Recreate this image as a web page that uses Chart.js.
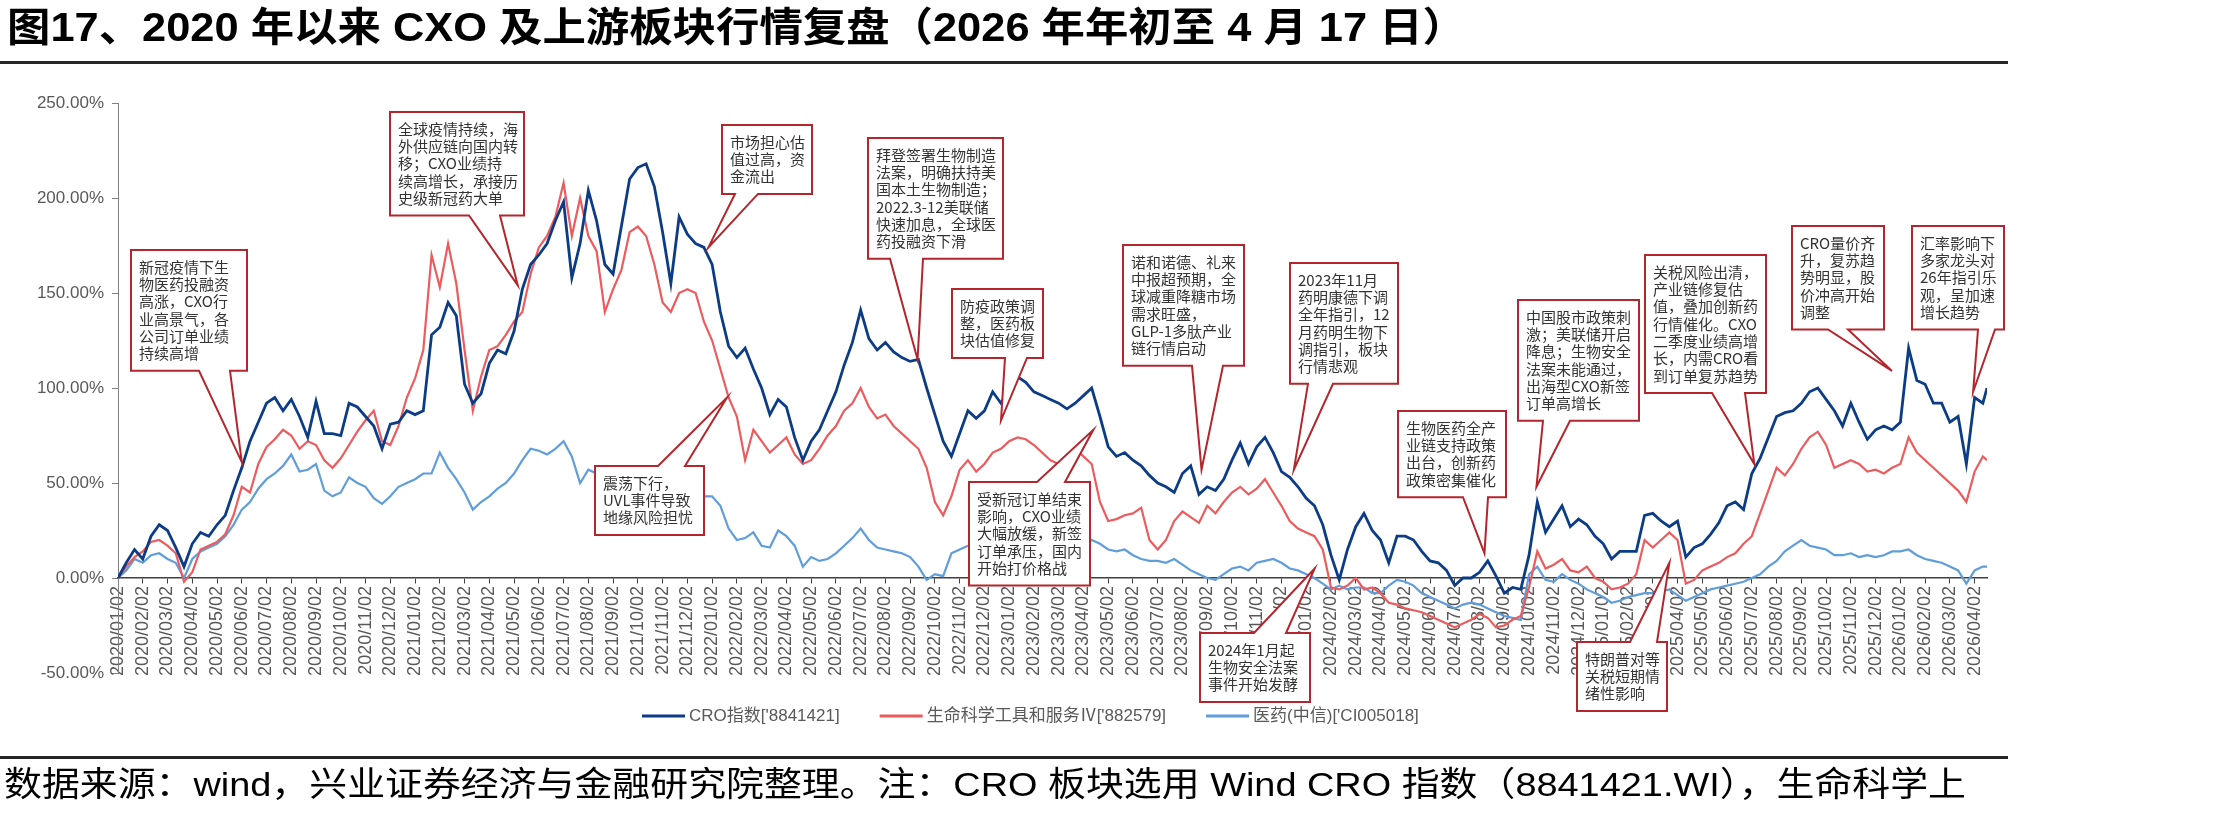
<!DOCTYPE html>
<html lang="zh-CN">
<head>
<meta charset="UTF-8">
<title>2020 年以来 CXO 及上游板块行情复盘</title>
<style>
  html, body { margin: 0; padding: 0; background: #fff; }
  body {
    width: 2221px; height: 819px; position: relative; overflow: hidden;
    font-family: "Liberation Sans", Arial, "Noto Sans CJK SC", sans-serif;
  }
  #chart { position: absolute; left: 0; top: 0; }
  #title {
    position: absolute; left: 7px; top: 7px; font-size: 40px; line-height: 40px;
    font-weight: bold; color: #000; white-space: nowrap; transform-origin: 0 0;
  }
  .rule { position: absolute; left: 0; width: 2008px; height: 3px; background: #262626; }
  #note {
    position: absolute; left: 4px; top: 767px; font-size: 34px; line-height: 34px;
    color: #000; white-space: nowrap; transform-origin: 0 0;
  }
</style>
<script src="https://cdn.jsdelivr.net/npm/chart.js"></script>
</head>
<body>
<canvas id="chart" width="2221" height="819"></canvas>
<div id="title">图17、2020 年以来 CXO 及上游板块行情复盘（2026 年年初至 4 月 17 日）</div>
<div class="rule" style="top:61px"></div>
<div class="rule" style="top:756px"></div>
<div id="note">数据来源：wind，兴业证券经济与金融研究院整理。注：CRO 板块选用 Wind CRO 指数（8841421.WI），生命科学上</div>

<script>
// x axis tick labels: one per month, 2020/01/02 .. 2026/04/02
const tickLabels = [];
for (let yr = 2020; yr <= 2026; yr++) {
  for (let mo = 1; mo <= 12; mo++) {
    if (yr === 2026 && mo > 4) break;
    tickLabels.push(yr + '/' + String(mo).padStart(2, '0') + '/02');
  }
}
// sample dates: the 2nd, 12th and 22nd of each month (last point 2026/04/17)
const sampleDays = ['02', '12', '22'];

// cumulative return since 2020/01/02, %
const croIndex = [
  // 2020
  0, 8, 15,  10, 22, 28,  25, 16, 6,  18, 24, 22,  28, 33, 46,  58, 72, 82,
  92, 95, 88,  94, 85, 74,  93, 76, 76,  75, 92, 90,  85, 80, 68,  81, 82, 88,
  // 2021
  86, 88, 128,  132, 145, 138,  102, 92, 97,  113, 120, 118,  130, 152, 165,  170, 176, 188,
  198, 158, 176,  204, 188, 165,  160, 185, 210,  216, 218, 206,  182, 155, 190,  181, 176, 174,
  // 2022
  165, 140, 122,  116, 121, 110,  100, 86, 94,  90, 74, 62,  72, 78, 88,  98, 112, 124,
  141, 126, 120,  124, 119, 116,  114, 115, 100,  86, 72, 64,  76, 88, 84,  88, 98, 92,
  // 2023
  100, 106, 103,  98, 96, 94,  92, 89, 92,  96, 100, 85,  69, 64, 66,  62, 59, 54,
  50, 48, 45,  55, 59, 44,  48, 46, 52,  62, 71, 60,  69, 74, 66,  56, 53, 48,
  // 2024
  42, 38, 28,  12, -1, 15,  27, 34, 25,  20, 8, 22,  22, 20, 14,  9, 8, 4,
  -4, 0, 0,  3, 9, 1,  -8, -5, -6,  12, 40, 24,  31, 38, 27,  31, 28, 22,
  // 2025
  18, 10, 14,  14, 14, 33,  34, 30, 27,  30, 11, 16,  18, 23, 29,  38, 40, 36,
  55, 63, 74,  85, 87, 88,  92, 98, 100,  94, 88, 80,  92, 82, 73,  78, 80, 78,
  // 2026
  82, 121, 104,  102, 92, 92,  82, 85, 60,  95, 92, 100
];
const lifeSciTools = [
  // 2020
  0, 6, 11,  14, 19, 20,  17, 13, -2,  3, 15, 17,  19, 23, 33,  48, 45, 60,
  69, 73, 78,  75, 68, 72,  70, 62, 58,  63, 70, 77,  83, 88, 72,  70, 80, 95,
  // 2021
  105, 120, 170,  153, 176, 155,  120, 88, 106,  120, 122, 128,  135, 140, 160,  174, 180, 190,
  208, 180, 200,  180, 172, 140,  152, 162, 182,  185, 180, 165,  145, 140, 150,  152, 150, 135,
  // 2022
  125, 110, 95,  85, 62, 78,  72, 66, 70,  74, 65, 60,  62, 68, 75,  80, 88, 92,
  100, 90, 84,  86, 80, 76,  72, 68, 58,  40, 33, 43,  57, 62, 56,  60, 66, 68,
  // 2023
  72, 74, 73,  70, 66, 62,  60, 62, 68,  64, 60, 40,  30, 31, 33,  34, 37, 20,
  15, 20, 30,  35, 32, 29,  38, 34, 40,  45, 48, 44,  47, 52, 45,  38, 30, 26,
  // 2024
  24, 22, 15,  -5, -6, -4,  0, -6, -5,  -8, -13, -14,  -16, -17, -18,  -20, -22, -24,
  -26, -24, -22,  -19, -21, -26,  -25, -22, -20,  -5, 14, 5,  7, 10, 4,  3, 6, 0,
  // 2025
  -2, -6, -5,  -3, 2, 20,  16, 20, 24,  20, -3, -1,  4, 6, 8,  11, 13, 18,
  22, 34, 46,  58, 54, 60,  68, 74, 77,  70, 58, 60,  62, 60, 56,  57, 55, 58,
  // 2026
  60, 74, 66,  62, 58, 54,  50, 46, 40,  56, 64, 62
];
const pharmaCitic = [
  // 2020
  0, 4, 10,  8, 12, 13,  10, 8, 0,  10, 14, 16,  18, 22, 28,  36, 40, 47,
  52, 55, 59,  65, 56, 57,  60, 46, 43,  45, 53, 50,  48, 42, 39,  43, 48, 50,
  // 2021
  52, 55, 55,  66, 58, 52,  45, 36, 40,  43, 47, 50,  55, 62, 68,  67, 65, 68,
  72, 64, 50,  57, 55, 50,  52, 55, 50,  48, 50, 46,  47, 45, 44,  42, 41, 43,
  // 2022
  43, 38, 26,  20, 21, 24,  17, 16, 25,  22, 17, 6,  11, 9, 10,  13, 17, 21,
  26, 20, 16,  15, 14, 13,  11, 6, -1,  2, 1, 13,  15, 17, 18,  19, 17, 20,
  // 2023
  18, 20, 22,  18, 20, 16,  15, 13, 15,  17, 20, 18,  15, 14, 15,  12, 10, 9,
  9, 8, 10,  7, 4, 2,  0, -1, 2,  5, 6, 4,  8, 9, 10,  8, 5, 4,
  // 2024
  2, 0, -3,  -6, -4, -6,  -5, -5, -8,  -8, -4, -1,  -2, -4, -8,  -10, -12, -14,
  -16, -14, -13,  -14, -16, -18,  -20, -21, -22,  2, 6, -1,  -2, 2, -1,  -3, -6, -8,
  // 2025
  -10, -13, -12,  -10, -9, -8,  -8, -7, -6,  -9, -12, -10,  -8, -6, -5,  -4, -3, -2,
  0, 2, 6,  9, 14, 17,  20, 17, 16,  15, 12, 12,  13, 11, 12,  11, 12, 14,
  // 2026
  14, 15, 12,  10, 9, 8,  6, 4, -3,  4, 6, 6
];

const seriesNames = ["CRO指数['8841421]", "生命科学工具和服务Ⅳ['882579]", "医药(中信)['CI005018]"];
const seriesColors = ['#0c3c86', '#ec5b5d', '#5f9ddb'];
const seriesWidths = [2.8, 2.2, 2.2];

// x position of each sample, in months since 2020/01/02
const sampleX = [];
tickLabels.forEach((lab, mi) => {
  sampleDays.forEach((d, k) => {
    if (mi === tickLabels.length - 1 && k === 2) sampleX.push(mi + 0.5); // 04/17
    else sampleX.push(mi + k / 3);
  });
});

// callout boxes: text lines, box rect (px), pointer base on box edge (px), tip (months, %)
const callouts = [
  { lines: ['新冠疫情下生', '物医药投融资', '高涨，CXO行', '业高景气，各', '公司订单业绩', '持续高增'],
    left: 131, top: 250, width: 116, side: 'bottom', base: [199, 230], tip: [5.0, 61] },
  { lines: ['全球疫情持续，海', '外供应链向国内转', '移；CXO业绩持', '续高增长，承接历', '史级新冠药大单'],
    left: 390, top: 112, width: 134, side: 'bottom', base: [469, 500], tip: [16.15, 154] },
  { lines: ['市场担心估', '值过高，资', '金流出'],
    left: 722, top: 125, width: 90, side: 'bottom', base: [735, 758], tip: [23.85, 174] },
  { lines: ['拜登签署生物制造', '法案，明确扶持美', '国本土生物制造；', '2022.3-12美联储', '快速加息，全球医', '药投融资下滑'],
    left: 868, top: 138, width: 135, side: 'bottom', base: [890, 923], tip: [32.3, 115] },
  { lines: ['防疫政策调', '整，医药板', '块估值修复'],
    left: 952, top: 289, width: 91, side: 'bottom', base: [1005, 1027], tip: [35.67, 83] },
  { lines: ['诺和诺德、礼来', '中报超预期，全', '球减重降糖市场', '需求旺盛，', 'GLP-1多肽产业', '链行情启动'],
    left: 1123, top: 245, width: 121, side: 'bottom', base: [1192, 1223], tip: [43.77, 57] },
  { lines: ['2023年11月', '药明康德下调', '全年指引，12', '月药明生物下', '调指引，板块', '行情悲观'],
    left: 1290, top: 263, width: 108, side: 'bottom', base: [1308, 1333], tip: [47.5, 57] },
  { lines: ['生物医药全产', '业链支持政策', '出台，创新药', '政策密集催化'],
    left: 1398, top: 411, width: 108, side: 'bottom', base: [1463, 1488], tip: [55.2, 13] },
  { lines: ['中国股市政策刺', '激；美联储开启', '降息；生物安全', '法案未能通过，', '出海型CXO新签', '订单高增长'],
    left: 1518, top: 300, width: 121, side: 'bottom', base: [1543, 1570], tip: [57.3, 48] },
  { lines: ['关税风险出清，', '产业链修复估', '值，叠加创新药', '行情催化。CXO', '二季度业绩高增', '长，内需CRO看', '到订单复苏趋势'],
    left: 1645, top: 255, width: 121, side: 'bottom', base: [1712, 1745], tip: [66.1, 60] },
  { lines: ['CRO量价齐', '升，复苏趋', '势明显，股', '价冲高开始', '调整'],
    left: 1792, top: 226, width: 92, side: 'bottom', base: [1828, 1848], tip: [71.66, 109] },
  { lines: ['汇率影响下', '多家龙头对', '26年指引乐', '观，呈加速', '增长趋势'],
    left: 1912, top: 226, width: 92, side: 'bottom', base: [1978, 1995], tip: [74.94, 98] },
  { lines: ['震荡下行，', 'UVL事件导致', '地缘风险担忧'],
    left: 595, top: 466, width: 109, side: 'top', base: [658, 685], tip: [24.6, 95] },
  { lines: ['受新冠订单结束', '影响，CXO业绩', '大幅放缓，新签', '订单承压，国内', '开始打价格战'],
    left: 969, top: 482, width: 121, side: 'top', base: [1037, 1065], tip: [39.4, 78] },
  { lines: ['2024年1月起', '生物安全法案', '事件开始发酵'],
    left: 1200, top: 633, width: 110, side: 'top', base: [1254, 1286], tip: [48.34, 5] },
  { lines: ['特朗普对等', '关税短期情', '绪性影响'],
    left: 1577, top: 642, width: 90, side: 'top', base: [1630, 1657], tip: [62.67, 8] }
];

const LINE_H = 17.3;
const PAD_X = 8;
const PAD_Y = 8.5;

const calloutPlugin = {
  id: 'callouts',
  afterDatasetsDraw(chart) {
    const { ctx } = chart;
    const xs = chart.scales.x, ys = chart.scales.y;
    ctx.save();
    ctx.font = '15px "Noto Sans CJK SC", sans-serif';
    ctx.lineJoin = 'miter';
    callouts.forEach(c => {
      const h = c.lines.length * LINE_H + 2 * PAD_Y;
      const L = c.left, T = c.top, R = c.left + c.width, B = c.top + h;
      const tx = xs.getPixelForValue(c.tip[0]);
      const ty = ys.getPixelForValue(c.tip[1]);
      ctx.beginPath();
      ctx.moveTo(L, T);
      if (c.side === 'top') {
        ctx.lineTo(c.base[0], T); ctx.lineTo(tx, ty); ctx.lineTo(c.base[1], T);
      }
      ctx.lineTo(R, T);
      ctx.lineTo(R, B);
      if (c.side === 'bottom') {
        ctx.lineTo(c.base[1], B); ctx.lineTo(tx, ty); ctx.lineTo(c.base[0], B);
      }
      ctx.lineTo(L, B);
      ctx.closePath();
      ctx.fillStyle = '#fff';
      ctx.fill();
      ctx.strokeStyle = '#b3262d';
      ctx.lineWidth = 2;
      ctx.stroke();
      ctx.fillStyle = '#333';
      ctx.textAlign = 'left';
      ctx.textBaseline = 'middle';
      c.lines.forEach((s, i) => ctx.fillText(s, L + PAD_X, T + PAD_Y + LINE_H * (i + 0.5)));
    });
    ctx.restore();
  },
  // legend drawn by hand so it sits exactly where the original has it
  afterDraw(chart) {
    const { ctx } = chart;
    ctx.save();
    ctx.font = '17px "Liberation Sans", Arial, "Noto Sans CJK SC", sans-serif';
    ctx.textBaseline = 'middle';
    ctx.textAlign = 'left';
    let x = 642;
    const y = 716;
    chart.data.datasets.forEach(ds => {
      ctx.fillStyle = ds.borderColor;
      ctx.fillRect(x, y - 1.5, 43, 3);
      ctx.fillStyle = '#595959';
      ctx.fillText(ds.label, x + 47, y);
      x += 47 + ctx.measureText(ds.label).width + 40;
    });
    ctx.restore();
  }
};

Chart.defaults.font.family = '"Liberation Sans", Arial, "Noto Sans CJK SC", sans-serif';

const seriesValues = [croIndex, lifeSciTools, pharmaCitic];
const datasets = seriesValues.map((vals, i) => ({
  label: seriesNames[i],
  data: vals.map((v, j) => ({ x: sampleX[j], y: v })),
  borderColor: seriesColors[i],
  backgroundColor: seriesColors[i],
  borderWidth: seriesWidths[i],
  pointRadius: 0,
  tension: 0,
  fill: false
}));

new Chart(document.getElementById('chart'), {
  type: 'line',
  data: { datasets },
  plugins: [calloutPlugin],
  options: {
    responsive: false,
    animation: false,
    layout: { padding: { top: 103, bottom: 146, left: 0, right: 234 } },
    plugins: { legend: { display: false }, tooltip: { enabled: false } },
    scales: {
      x: {
        type: 'linear',
        position: { y: 0 },
        min: 0,
        max: 75.5,
        grid: { drawOnChartArea: false, drawTicks: true, tickLength: 5, color: '#404040' },
        border: { color: '#404040', width: 1.5 },
        ticks: {
          stepSize: 1,
          autoSkip: false,
          includeBounds: false,
          minRotation: 90,
          maxRotation: 90,
          padding: 3,
          color: '#595959',
          font: { size: 18 },
          callback: v => tickLabels[v] !== undefined ? tickLabels[v] : ''
        }
      },
      y: {
        min: -50,
        max: 250,
        afterFit: s => { s.width = 118; },
        grid: { drawOnChartArea: false, tickLength: 6, color: '#808080' },
        border: { color: '#808080', width: 1 },
        ticks: {
          stepSize: 50,
          padding: 8,
          color: '#595959',
          font: { size: 17 },
          callback: v => v.toFixed(2) + '%'
        }
      }
    }
  }
});

// stretch title and note to the width they take in the original
function fitWidth(id, target) {
  const el = document.getElementById(id);
  el.style.transform = 'none';
  const w = el.getBoundingClientRect().width;
  el.style.transform = 'scaleX(' + (target / w) + ')';
}
fitWidth('title', 1459);
fitWidth('note', 1962);
if (document.fonts && document.fonts.ready) {
  document.fonts.ready.then(() => { fitWidth('title', 1459); fitWidth('note', 1962); });
}
</script>
</body>
</html>
